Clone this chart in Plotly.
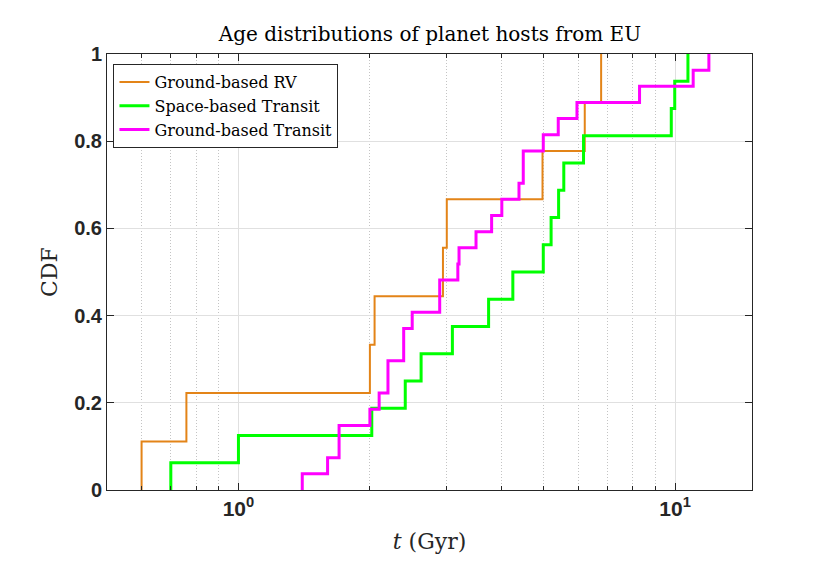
import numpy as np
import plotly.graph_objects as go

# stellar ages (Gyr)
rv_ground_ages = [0.60, 0.76, 2.00, 2.05, 2.94, 3.00, 4.97, 6.21, 6.77]
transit_space_ages = [0.70, 1.00, 2.02, 2.41, 2.62, 3.09, 3.74, 4.25, 4.99,
                      5.20, 5.41, 5.56, 6.17, 9.80, 9.98, 10.7]
transit_ground_ages = [1.40, 1.60, 1.70, 1.70, 2.00, 2.10, 2.20, 2.20, 2.39,
                       2.39, 2.50, 2.89, 2.89, 3.18, 3.20, 3.50, 3.80, 4.01,
                       4.39, 4.49, 4.49, 4.99, 5.40, 5.96, 8.29, 11.0, 11.95]

series_names = ["Ground-based RV", "Space-based Transit", "Ground-based Transit"]
series_colors = ["#E38418", "#00FF00", "#FF00FF"]
series_widths = [2, 3, 3]

x_tickvals = [1, 10]
x_ticktext = ["10<sup>0</sup>", "10<sup>1</sup>"]

AXIS_COL = "#262626"
SERIF = "DejaVu Serif"
SANS = "Liberation Sans"


def ecdf(ages):
    x = np.sort(np.array(ages, dtype=float))
    n = len(x)
    y = np.arange(1, n + 1) / n
    # start from zero at the first sample
    return np.concatenate([[x[0]], x]), np.concatenate([[0.0], y])


fig = go.Figure()
for ages, name, col, w in zip([rv_ground_ages, transit_space_ages, transit_ground_ages],
                              series_names, series_colors, series_widths):
    x, y = ecdf(ages)
    fig.add_trace(go.Scatter(x=x, y=y, mode="lines", name=name,
                             line=dict(color=col, width=w, shape="hv")))

# page body adds 8px, so the figure is a bit smaller than the window
fig.update_layout(
    width=814, height=558,
    margin=dict(l=99, r=70, t=46, b=76),
    paper_bgcolor="white", plot_bgcolor="white",
    title=dict(text="Age distributions of planet hosts from EU",
               x=0.5184, xanchor="center", y=0.953, yanchor="middle",
               font=dict(family=SERIF, size=20, color="black")),
    legend=dict(x=0.01, y=0.977, xanchor="left", yanchor="top",
                bgcolor="white", bordercolor=AXIS_COL, borderwidth=1,
                font=dict(family=SERIF, size=16, color="black"),
                tracegroupgap=0, itemwidth=30),
    showlegend=True,
)

fig.update_xaxes(
    type="log", range=[np.log10(0.5), np.log10(15)],
    tickvals=x_tickvals, ticktext=x_ticktext,
    ticks="inside", ticklen=7, tickcolor=AXIS_COL,
    showline=True, linecolor=AXIS_COL, linewidth=1, mirror="ticks",
    showgrid=True, gridcolor="#e0e0e0", gridwidth=1,
    minor=dict(dtick="D1", ticks="inside", ticklen=4, tickcolor=AXIS_COL,
               showgrid=True, gridcolor="#c4c4c4", griddash="1px,2px", gridwidth=1),
    tickfont=dict(family=SANS, size=21, color=AXIS_COL, weight="bold"),
    title=dict(text="<i>t</i> (Gyr)", font=dict(family=SERIF, size=22, color=AXIS_COL),
               standoff=14),
    zeroline=False,
)
fig.update_yaxes(
    range=[0, 1], dtick=0.2, tickformat=".1~f",
    ticks="inside", ticklen=7, tickcolor=AXIS_COL,
    showline=True, linecolor=AXIS_COL, linewidth=1, mirror="ticks",
    showgrid=True, gridcolor="#e0e0e0", gridwidth=1,
    tickfont=dict(family=SANS, size=20, color=AXIS_COL, weight="bold"),
    title=dict(text="CDF", font=dict(family=SERIF, size=22, color=AXIS_COL), standoff=10),
    zeroline=False,
)

fig.write_html("out.html")
